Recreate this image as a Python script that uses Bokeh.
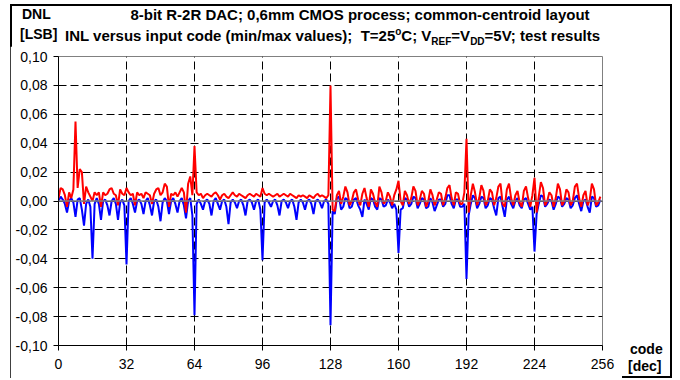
from bokeh.plotting import figure
from bokeh.models import Range1d, FixedTicker, CustomJSTickFormatter, Span, Div
from bokeh.layouts import column, row
from bokeh.embed import file_html
from bokeh.resources import INLINE

# ---------------- data ----------------
codes = list(range(256))

dnl_max = [
    0.002, 0.009, 0.008, 0.004, -0.004, 0.006, 0.002, 0.008, 0.055, 0.009, 0.022, 0.020, -0.002, 0.010, 0.006, 0.003,
    0.000, 0.006, 0.004, 0.006, -0.004, 0.006, 0.004, 0.005, 0.008, 0.009, 0.005, 0.004, -0.003, 0.008, 0.005, 0.004,
    0.009, 0.006, 0.004, 0.005, -0.003, 0.006, 0.004, 0.005, 0.002, 0.006, 0.005, 0.004, -0.002, 0.005, 0.008, 0.009,
    0.004, 0.006, 0.012, 0.010, -0.004, 0.005, 0.004, 0.006, 0.003, 0.006, 0.009, 0.006, -0.008, 0.012, 0.017, 0.004,
    0.038, 0.006, 0.004, 0.005, 0.002, 0.004, 0.005, 0.004, 0.003, 0.005, 0.006, 0.004, 0.001, 0.004, 0.005, 0.003,
    0.002, 0.004, 0.006, 0.004, 0.003, 0.005, 0.004, 0.003, 0.002, 0.004, 0.005, 0.004, 0.003, 0.005, 0.004, 0.003,
    0.009, 0.005, 0.004, 0.005, 0.004, 0.003, 0.004, 0.005, 0.003, 0.004, 0.005, 0.004, 0.003, 0.005, 0.004, 0.003,
    0.002, 0.004, 0.003, 0.004, 0.003, 0.002, 0.004, 0.003, 0.002, 0.004, 0.005, 0.003, 0.004, 0.003, 0.002, 0.004,
    0.080, -0.006, -0.007, 0.004, 0.007, -0.002, 0.003, 0.010, 0.006, -0.003, 0.000, 0.006, 0.008, 0.001, -0.003, 0.005,
    0.009, 0.002, -0.004, 0.008, 0.005, -0.001, -0.004, 0.010, 0.006, -0.002, 0.000, 0.006, 0.003, -0.003, 0.004, 0.008,
    0.014, 0.000, -0.003, 0.007, 0.004, -0.002, 0.002, 0.010, 0.007, -0.003, 0.001, 0.007, 0.005, -0.004, 0.000, 0.008,
    0.004, -0.003, 0.001, 0.006, 0.005, -0.003, 0.002, 0.009, 0.011, 0.002, -0.003, 0.006, 0.005, -0.002, -0.002, 0.006,
    0.043, -0.008, 0.004, 0.012, 0.006, -0.003, 0.002, 0.011, 0.007, -0.003, 0.000, 0.008, 0.006, -0.003, 0.002, 0.010,
    0.012, -0.002, -0.004, 0.008, 0.012, 0.002, -0.003, 0.004, 0.007, -0.001, -0.004, 0.007, 0.010, 0.002, -0.004, 0.004,
    0.016, -0.008, 0.003, 0.013, 0.009, -0.003, 0.000, 0.006, 0.004, -0.004, 0.002, 0.012, 0.008, -0.003, 0.000, 0.008,
    0.006, -0.003, 0.000, 0.010, 0.012, 0.002, -0.004, 0.004, 0.007, -0.003, 0.001, 0.012, 0.008, -0.003, -0.001, 0.003,
]

dnl_min = [
    0.000, 0.003, 0.001, -0.002, -0.008, 0.000, 0.002, -0.001, -0.011, 0.001, 0.002, -0.006, -0.017, -0.002, 0.001, -0.004,
    -0.040, -0.002, 0.002, -0.002, -0.013, 0.000, 0.001, -0.003, -0.010, 0.000, 0.002, -0.002, -0.013, -0.001, 0.001, -0.003,
    -0.044, 0.000, 0.002, -0.002, -0.008, 0.000, 0.001, -0.002, -0.009, 0.000, 0.002, -0.003, -0.010, 0.000, 0.001, -0.004,
    -0.014, -0.001, 0.002, 0.000, -0.009, 0.000, 0.002, -0.002, -0.008, 0.000, 0.002, -0.003, -0.012, 0.000, 0.002, -0.010,
    -0.079, -0.002, 0.001, -0.002, -0.006, 0.000, 0.001, -0.002, -0.010, 0.000, 0.002, -0.002, -0.006, 0.000, 0.001, -0.004,
    -0.016, -0.001, 0.001, -0.001, -0.005, 0.000, 0.001, -0.003, -0.010, 0.000, 0.001, -0.001, -0.006, 0.000, 0.001, -0.006,
    -0.041, -0.001, 0.001, -0.001, -0.004, 0.000, 0.001, -0.003, -0.010, 0.000, 0.001, -0.001, -0.005, 0.000, 0.001, -0.004,
    -0.013, -0.001, 0.001, -0.001, -0.006, 0.000, 0.001, -0.002, -0.009, 0.000, 0.001, -0.001, -0.005, 0.000, 0.001, -0.002,
    -0.086, -0.007, -0.009, 0.002, 0.003, -0.006, -0.004, 0.002, 0.001, -0.005, -0.004, 0.001, 0.002, -0.003, -0.006, -0.011,
    0.001, -0.002, -0.006, 0.002, 0.001, -0.004, -0.006, 0.002, 0.001, -0.004, -0.003, 0.001, -0.001, -0.005, -0.002, -0.006,
    -0.036, -0.006, -0.005, 0.002, 0.001, -0.004, -0.002, 0.003, 0.002, -0.005, -0.002, 0.002, 0.001, -0.005, -0.004, 0.002,
    -0.001, -0.007, -0.003, 0.001, 0.001, -0.004, -0.002, 0.004, 0.004, -0.002, -0.005, 0.001, 0.001, -0.004, -0.004, -0.002,
    -0.054, -0.010, -0.002, 0.004, 0.002, -0.005, -0.002, 0.003, 0.002, -0.005, -0.003, 0.002, 0.001, -0.005, -0.010, 0.002,
    0.003, -0.004, -0.011, 0.001, 0.003, -0.002, -0.005, 0.000, 0.002, -0.003, -0.005, 0.001, 0.002, -0.002, -0.006, -0.004,
    -0.035, -0.009, -0.002, 0.004, 0.003, -0.004, -0.002, 0.001, 0.000, -0.006, -0.002, 0.003, 0.002, -0.004, -0.002, 0.002,
    0.001, -0.005, -0.003, 0.002, 0.004, -0.002, -0.007, 0.000, 0.001, -0.004, -0.008, 0.003, 0.002, -0.004, -0.003, 0.001,
]

x_ticks = [0, 32, 64, 96, 128, 160, 192, 224, 256]
y_ticks = [-0.10, -0.08, -0.06, -0.04, -0.02, 0.0, 0.02, 0.04, 0.06, 0.08, 0.10]

title_1 = "8-bit R-2R DAC; 0,6mm CMOS process; common-centroid layout"
SUB = '<span style="font-size:10px;position:relative;top:4px;">%s</span>'
SUP = '<span style="font-size:10px;position:relative;top:-6px;">%s</span>'
title_2 = ("INL versus input code (min/max values);&nbsp; T=25" + SUP % "o" + "C; V" + SUB % "REF"
           + "=V" + SUB % "DD" + "=5V; test results")
y_title = ["DNL", "[LSB]"]
x_title = ["code", "[dec]"]

# ---------------- layout ----------------
TOTAL_W, TOTAL_H = 662, 374
HEAD_H = 42
FIG_W, FIG_H = 612, TOTAL_H - HEAD_H
FL, FR, FT, FB = 48, 20, 10, 33
FONT = "Liberation Sans"

p = figure(width=FIG_W, height=FIG_H, output_backend="svg", toolbar_location=None,
           x_range=Range1d(x_ticks[0], x_ticks[-1]), y_range=Range1d(y_ticks[0], y_ticks[-1]),
           min_border_left=FL, min_border_right=FR, min_border_top=FT, min_border_bottom=FB)
p.background_fill_color = "white"
p.border_fill_color = "white"
p.outline_line_color = "#808080"
p.outline_line_width = 1

for ax, ticks in ((p.xaxis, x_ticks), (p.yaxis, y_ticks)):
    ax.ticker = FixedTicker(ticks=ticks)
    ax.axis_line_color = "black"
    ax.axis_line_width = 1
    ax.major_tick_line_color = "black"
    ax.major_tick_out = 5
    ax.major_tick_in = 0
    ax.minor_tick_line_color = None
    ax.major_label_text_font = FONT
    ax.major_label_text_font_size = "14px"
    ax.major_label_text_color = "black"
p.xaxis.major_label_standoff = 8
p.yaxis.major_label_standoff = 6
p.yaxis.formatter = CustomJSTickFormatter(code="return tick.toFixed(2).replace('.', ',');")

p.xgrid.ticker = FixedTicker(ticks=x_ticks[1:-1])
p.ygrid.ticker = FixedTicker(ticks=y_ticks[1:-1])
for g in (p.xgrid, p.ygrid):
    g.grid_line_color = "black"
    g.grid_line_width = 1
    g.grid_line_dash = "8 4"

p.add_layout(Span(location=0, dimension="width", line_color="#808080", line_width=1.5))

p.line(codes, dnl_min, line_color="#0000FF", line_width=2)
p.line(codes, dnl_max, line_color="#FF0000", line_width=2)

# ---------------- texts (HTML) ----------------
def span(text, left, top, size, extra=""):
    return (f'<span style="position:absolute;left:{left}px;top:{top}px;font-family:\'{FONT}\';'
            f'font-weight:bold;font-size:{size}px;line-height:{size}px;white-space:nowrap;'
            f'color:#000;{extra}">{text}</span>')

head_html = ('<div style="position:relative;width:%dpx;height:%dpx;overflow:visible;">' % (TOTAL_W, HEAD_H)
             + span(y_title[0], 12, 3, 14)
             + span(y_title[1], 10, 23, 14)
             + span(title_1, 350, 3, 15, "transform:translateX(-50%);")
             + span(title_2, 55, 24, 15)
             + '</div>')
head = Div(text=head_html, width=TOTAL_W, height=HEAD_H, margin=0)

side_html = ('<div style="position:relative;width:%dpx;height:%dpx;">' % (TOTAL_W - FIG_W, FIG_H)
             + span(x_title[0], 8, 296, 14)
             + span(x_title[1], 6, 313, 14)
             + '</div>')
side = Div(text=side_html, width=TOTAL_W - FIG_W, height=FIG_H, margin=0)

layout = column(head, row(p, side, spacing=0), spacing=0,
                styles={"outline": "2px solid #000000", "outline-offset": "-2px",
                        "margin-left": "10px", "margin-top": "4px"})

open("out.html", "w").write(file_html(layout, INLINE))
